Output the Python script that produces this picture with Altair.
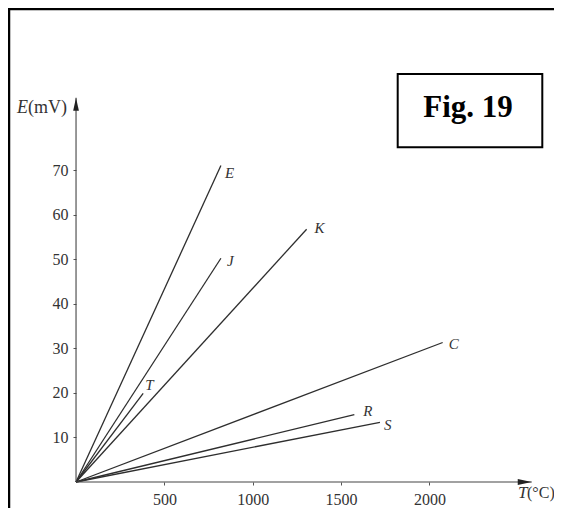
import altair as alt
import pandas as pd

# thermocouple types and the end point of each line (T in °C, E in mV)
names = ["E", "J", "K", "T", "C", "R", "S"]
end_temp = [820, 820, 1305, 380, 2075, 1575, 1720]
end_emf = [71.0, 50.2, 56.7, 19.9, 31.3, 15.1, 13.4]
label_dx = [4, 6, 8, 2, 6, 9, 4]
label_dy = [7, 3, -1, -8, 2, -4, 3]

x_ticks = [500, 1000, 1500, 2000]
y_ticks = [10, 20, 30, 40, 50, 60, 70]
x_axis_end = 2579
y_axis_end = 86.2
x_domain = [-385, 2705]
y_domain = [-5.835, 106.35]

W, H = 546, 500
SERIF = "Liberation Serif"
INK = "#2e2e2e"

xs = alt.Scale(domain=x_domain, nice=False, zero=False)
ys = alt.Scale(domain=y_domain, nice=False, zero=False)
x_axis = alt.Axis(values=x_ticks, offset=-26, domain=False, grid=False, tickSize=3,
                  tickColor="#555", labelFont=SERIF, labelFontSize=16, labelColor="#333",
                  labelPadding=6, format="d", title=None)
y_axis = alt.Axis(values=y_ticks, offset=-68, domain=False, grid=False, tickSize=3,
                  tickColor="#555", labelFont=SERIF, labelFontSize=16, labelColor="#333",
                  labelPadding=5, format="d", title=None)

def X(field="t"):
    return alt.X(f"{field}:Q", scale=xs, axis=x_axis)

def Y(field="e"):
    return alt.Y(f"{field}:Q", scale=ys, axis=y_axis)

rows = []
for n, t, e in zip(names, end_temp, end_emf):
    rows.append({"name": n, "t": 0, "e": 0})
    rows.append({"name": n, "t": t, "e": e})
lines_df = pd.DataFrame(rows)

lines = alt.Chart(lines_df).mark_line(color=INK, strokeWidth=1.3).encode(
    x=X(), y=Y(), detail="name:N"
)

# axes lines with arrowheads
axes_df = pd.DataFrame({"t": [0, 0], "t2": [x_axis_end, 0], "e": [0, 0], "e2": [0, y_axis_end]})
axis_rules = alt.Chart(axes_df).mark_rule(color="#444", strokeWidth=1.1).encode(
    x=X(), x2="t2:Q", y=Y(), y2="e2:Q"
)
arrow_x = alt.Chart(pd.DataFrame({"t": [x_axis_end], "e": [0]})).mark_point(
    shape="M -1 -0.22 L 0 0 L -1 0.22 Z", size=784, filled=True, color="#222", opacity=1
).encode(x=X(), y=Y())
arrow_y = alt.Chart(pd.DataFrame({"t": [0], "e": [y_axis_end]})).mark_point(
    shape="M -0.22 1 L 0 0 L 0.22 1 Z", size=676, filled=True, color="#222", opacity=1
).encode(x=X(), y=Y())

label_layers = []
for n, t, e, dx, dy in zip(names, end_temp, end_emf, label_dx, label_dy):
    label_layers.append(
        alt.Chart(pd.DataFrame({"t": [t], "e": [e], "name": [n]})).mark_text(
            font=SERIF, fontStyle="italic", fontSize=15, color="#333",
            align="left", baseline="middle", dx=dx, dy=dy
        ).encode(x=X(), y=Y(), text="name:N")
    )

one = pd.DataFrame({"a": [0]})
e_title = alt.Chart(one).mark_text(font=SERIF, fontStyle="italic", fontSize=18, color="#333",
                                   align="left", baseline="alphabetic").encode(
    x=alt.value(9), y=alt.value(105), text=alt.value("E"))
e_unit = alt.Chart(one).mark_text(font=SERIF, fontSize=18, color="#333",
                                  align="left", baseline="alphabetic").encode(
    x=alt.value(20), y=alt.value(105), text=alt.value("(mV)"))
t_title = alt.Chart(one).mark_text(font=SERIF, fontStyle="italic", fontSize=17, color="#333",
                                   align="left", baseline="alphabetic").encode(
    x=alt.value(510), y=alt.value(490), text=alt.value("T"))
t_unit = alt.Chart(one).mark_text(font=SERIF, fontSize=16, color="#333",
                                  align="left", baseline="alphabetic").encode(
    x=alt.value(519), y=alt.value(490), text=alt.value("(°C)"))

fig_box = alt.Chart(one).mark_rect(fill="white", stroke="black", strokeWidth=2).encode(
    x=alt.value(389.7), x2=alt.value(534.3), y=alt.value(66), y2=alt.value(139.3))
fig_text = alt.Chart(one).mark_text(font=SERIF, fontWeight="bold", fontSize=31, color="black",
                                    align="center", baseline="alphabetic").encode(
    x=alt.value(460), y=alt.value(109), text=alt.value("Fig. 19"))

border_left = alt.Chart(one).mark_rule(color="black", strokeWidth=2.5).encode(
    x=alt.value(1), y=alt.value(0), y2=alt.value(H))
border_top = alt.Chart(one).mark_rule(color="black", strokeWidth=2.5).encode(
    x=alt.value(0), x2=alt.value(W + 8), y=alt.value(1))

chart = alt.layer(
    lines, axis_rules, arrow_x, arrow_y, *label_layers,
    e_title, e_unit, t_title, t_unit, fig_box, fig_text, border_left, border_top
).properties(
    width=W, height=H, padding=0, autosize=alt.AutoSizeParams(type="none")
).configure_view(stroke=None)

chart.save("out.html", embed_options={"renderer": "svg", "actions": False})
